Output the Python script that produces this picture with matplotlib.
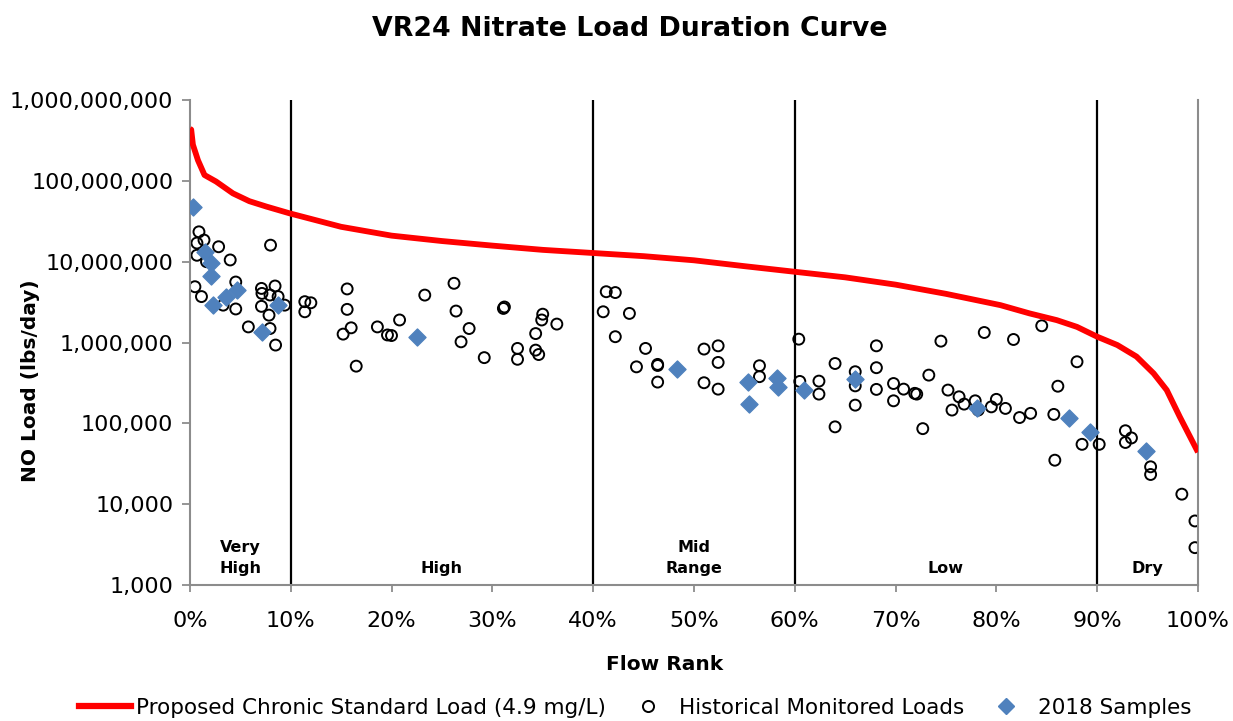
import matplotlib
matplotlib.use("Agg")
import matplotlib.pyplot as plt
from matplotlib.lines import Line2D
from matplotlib.ticker import FuncFormatter, FixedLocator

# chronic standard load curve (flow rank %, lbs/day)
curve_rank = [0.0, 0.13, 0.3, 0.8, 1.45, 2.6, 4.27, 5.9, 7.6, 9.9, 15, 20, 25, 30, 35, 40,
              45, 50, 55, 60, 65, 70, 75, 80.4, 83.3, 86, 88, 90, 92, 93.9, 95.6, 96.9,
              98.2, 100]
curve_load = [4.4e8, 4.3e8, 2.8e8, 1.8e8, 1.18e8, 9.8e7, 7.0e7, 5.6e7, 4.8e7, 3.96e7, 2.7e7,
              2.1e7, 1.8e7, 1.58e7, 1.4e7, 1.28e7, 1.17e7, 1.04e7, 8.8e6, 7.5e6, 6.4e6,
              5.2e6, 4.0e6, 2.9e6, 2.29e6, 1.89e6, 1.56e6, 1.18e6, 9.3e5, 6.7e5, 4.15e5,
              2.58e5, 1.2e5, 4.4e4]

# historical monitored loads
hist_rank = [0.9, 0.7, 1.4, 0.7, 2.85, 4.0, 8.0, 1.65, 0.5, 1.15, 3.3, 4.55, 4.55, 5.8,
             7.1, 7.15, 8.45, 7.95, 7.1, 8.75, 7.85, 7.95, 8.5, 9.4,
             11.4, 12.0, 11.4, 15.6, 15.6, 16.0, 15.2, 16.5, 18.6, 19.6, 20.0, 20.8, 23.3,
             26.2, 26.4, 27.7, 26.9, 29.2, 31.1, 31.2, 32.5, 32.5, 34.3, 34.3, 34.6, 34.9,
             35.0, 36.4,
             41.3, 42.2, 41.0, 43.6, 42.2, 45.2, 44.3, 46.4, 46.4, 46.4, 51.0, 52.4, 52.4,
             51.0, 52.4, 56.5, 56.5,
             60.4, 60.5, 62.4, 62.4, 64.0, 64.0, 66.0, 66.0, 66.0, 68.1, 68.1, 68.1, 69.8,
             69.8, 70.8, 71.9, 72.1, 73.3, 72.7, 74.5, 75.2, 75.6, 76.3, 76.8, 77.9, 78.2,
             78.8, 79.5, 80.0, 80.9, 81.7, 82.3, 83.4, 84.5, 85.7, 85.8, 86.1, 88.0, 88.5,
             90.2, 92.8, 93.4, 92.8, 95.3, 95.3, 98.4, 99.7, 99.7]
hist_load = [2.34e7, 1.7e7, 1.85e7, 1.2e7, 1.53e7, 1.05e7, 1.6e7, 1.0e7, 4.9e6, 3.7e6, 2.9e6,
             5.6e6, 2.6e6, 1.56e6, 4.67e6, 4.05e6, 5.0e6, 3.87e6, 2.8e6, 3.7e6, 2.18e6,
             1.49e6, 9.3e5, 2.9e6,
             3.2e6, 3.1e6, 2.4e6, 4.6e6, 2.57e6, 1.52e6, 1.27e6, 5.1e5, 1.56e6, 1.24e6,
             1.22e6, 1.9e6, 3.86e6, 5.4e6, 2.45e6, 1.49e6, 1.02e6, 6.5e5, 2.64e6, 2.75e6,
             8.45e5, 6.2e5, 1.29e6, 8.05e5, 7.1e5, 1.9e6, 2.24e6, 1.69e6,
             4.25e6, 4.15e6, 2.4e6, 2.29e6, 1.18e6, 8.45e5, 5.0e5, 5.36e5, 5.2e5, 3.24e5,
             8.3e5, 9.1e5, 5.67e5, 3.18e5, 2.65e5, 5.16e5, 3.78e5,
             1.1e6, 3.3e5, 3.33e5, 2.3e5, 5.5e5, 9.05e4, 4.35e5, 2.91e5, 1.68e5, 9.1e5,
             4.88e5, 2.63e5, 3.11e5, 1.9e5, 2.65e5, 2.35e5, 2.3e5, 3.95e5, 8.6e4, 1.04e6,
             2.58e5, 1.46e5, 2.13e5, 1.73e5, 1.9e5, 1.46e5, 1.33e6, 1.6e5, 1.98e5, 1.53e5,
             1.09e6, 1.18e5, 1.33e5, 1.61e6, 1.29e5, 3.5e4, 2.88e5, 5.78e5, 5.5e4,
             5.5e4, 8.1e4, 6.6e4, 5.8e4, 2.9e4, 2.33e4, 1.33e4, 6.2e3, 2.9e3]

# 2018 samples
s2018_rank = [0.3, 1.5, 2.1, 2.1, 2.3, 3.6, 4.7, 7.2, 8.7, 22.5, 48.3, 55.4, 55.5, 58.2,
              58.3, 60.9, 66.0, 78.1, 87.2, 89.3, 94.8]
s2018_load = [4.7e7, 1.33e7, 9.5e6, 6.7e6, 2.9e6, 3.7e6, 4.4e6, 1.36e6, 2.9e6, 1.18e6,
              4.65e5, 3.27e5, 1.76e5, 3.6e5, 2.78e5, 2.58e5, 3.53e5, 1.57e5, 1.17e5,
              7.9e4, 4.5e4]

# flow zones
zone_breaks = [10, 40, 60, 90]
zone_names = ["Very\nHigh", "High", "Mid\nRange", "Low", "Dry"]
zone_centers = [5, 25, 50, 75, 95]

fig = plt.figure(figsize=(12.33, 7.21), dpi=100)
ax = fig.add_axes([0.154, 0.1886, 0.8176, 0.6727])

for xb in zone_breaks:
    ax.axvline(xb, color="black", lw=1.6, zorder=1)

ax.scatter(hist_rank, hist_load, s=62, facecolor="none", edgecolor="black",
           linewidth=1.4, zorder=2)
ax.scatter(s2018_rank, s2018_load, s=75, marker="D", color="#4F81BD", zorder=3)
ax.plot(curve_rank, curve_load, color="#FF0000", lw=4.2, zorder=4,
        solid_capstyle="butt")

ax.set_yscale("log")
ax.set_ylim(1e3, 1e9)
ax.set_xlim(0, 100)
ax.yaxis.set_major_locator(FixedLocator([10 ** k for k in range(3, 10)]))
ax.yaxis.set_minor_locator(FixedLocator([]))
ax.yaxis.set_major_formatter(FuncFormatter(lambda v, p: f"{int(round(v)):,}"))
ax.xaxis.set_major_locator(FixedLocator(range(0, 101, 10)))
ax.xaxis.set_major_formatter(FuncFormatter(lambda v, p: f"{int(v)}%"))

ax.spines["top"].set_visible(False)
for side in ["left", "bottom", "right"]:
    ax.spines[side].set_color("#8c8c8c")
    ax.spines[side].set_linewidth(1.5)
ax.tick_params(axis="both", colors="#8c8c8c", labelcolor="black", labelsize=16,
               width=1.3)
ax.tick_params(axis="y", length=6, pad=6)
ax.tick_params(axis="x", length=5, pad=14)

for xc, name in zip(zone_centers, zone_names):
    ax.text(xc, 1.3e3, name, ha="center", va="bottom", fontsize=11.5,
            fontweight="bold", linespacing=1.45)

fig.text(0.511, 0.96, "VR24 Nitrate Load Duration Curve", ha="center", va="center",
         fontsize=19.3, fontweight="bold")
fig.text(0.539, 0.078, "Flow Rank", ha="center", va="center", fontsize=14.5,
         fontweight="bold")
fig.text(0.025, 0.472, "NO Load (lbs/day)", ha="center", va="center", rotation=90,
         fontsize=14.5, fontweight="bold")

handles = [
    Line2D([], [], color="#FF0000", lw=4.5),
    Line2D([], [], marker="o", ls="none", mfc="none", mec="black", ms=8, mew=1.4),
    Line2D([], [], marker="D", ls="none", color="#4F81BD", ms=8),
]
labels = ["Proposed Chronic Standard Load (4.9 mg/L)", "Historical Monitored Loads",
          "2018 Samples"]
fig.legend(handles, labels, loc="center", bbox_to_anchor=(0.515, 0.018), ncol=3,
           frameon=False, fontsize=15.5, handlelength=2.4, handletextpad=0.25,
           columnspacing=0.75)

fig.savefig("out.png", dpi=100)
